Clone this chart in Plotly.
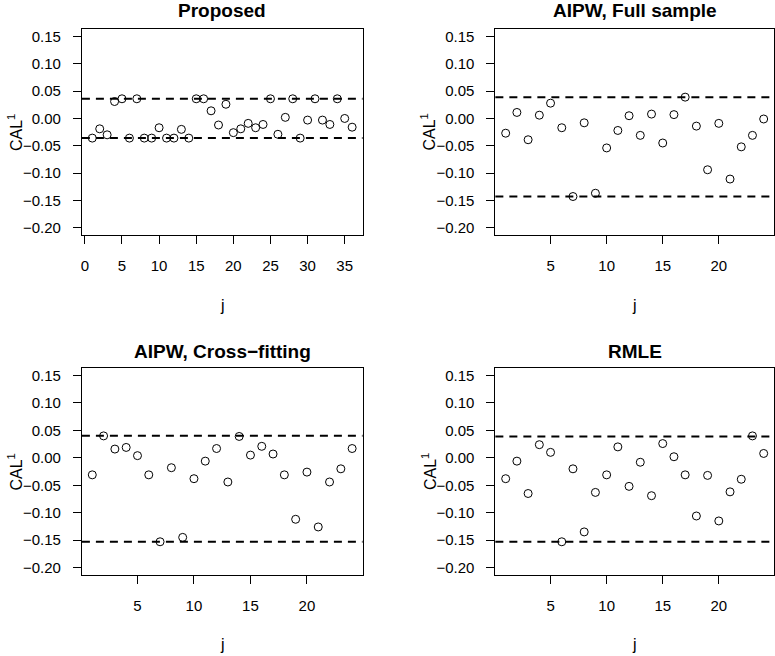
import plotly.graph_objects as go

# ---- data ----
titles = ["Proposed", "AIPW, Full sample", "AIPW, Cross\u2212fitting", "RMLE"]

proposed = [-0.036, -0.019, -0.030, 0.031, 0.036, -0.036, 0.036, -0.036, -0.036, -0.017,
            -0.036, -0.036, -0.020, -0.036, 0.036, 0.036, 0.014, -0.012, 0.026, -0.026,
            -0.019, -0.009, -0.017, -0.011, 0.036, -0.029, 0.002, 0.036, -0.036, -0.003,
            0.036, -0.003, -0.011, 0.036, 0.000, -0.016]
aipw_full = [-0.027, 0.011, -0.039, 0.006, 0.028, -0.017, -0.143, -0.008, -0.137, -0.054,
             -0.022, 0.005, -0.031, 0.008, -0.045, 0.007, 0.039, -0.014, -0.094, -0.009,
             -0.111, -0.052, -0.031, -0.001]
aipw_cf = [-0.031, 0.040, 0.016, 0.019, 0.004, -0.031, -0.153, -0.018, -0.145, -0.038,
           -0.006, 0.017, -0.044, 0.039, 0.005, 0.021, 0.007, -0.031, -0.112, -0.026,
           -0.126, -0.044, -0.020, 0.017]
rmle = [-0.038, -0.006, -0.065, 0.024, 0.010, -0.153, -0.020, -0.135, -0.063, -0.031,
        0.020, -0.052, -0.008, -0.069, 0.026, 0.002, -0.031, -0.106, -0.032, -0.115,
        -0.062, -0.039, 0.040, 0.008]

bounds = [(-0.036, 0.036), (-0.143, 0.039), (-0.153, 0.0405), (-0.153, 0.039)]

series = [proposed, aipw_full, aipw_cf, rmle]
xticks = [[0, 5, 10, 15, 20, 25, 30, 35], [5, 10, 15, 20], [5, 10, 15, 20], [5, 10, 15, 20]]
yticks = [-0.20, -0.15, -0.10, -0.05, 0.00, 0.05, 0.10, 0.15]
ylim = (-0.20, 0.15)

# ---- layout geometry (pixels) ----
W, H = 775, 656
boxes = [  # left, right, top, bottom
    (81, 362, 28, 235),
    (495, 774, 28, 235),
    (81, 362, 368, 576),
    (495, 774, 368, 576),
]
title_y = [10, 10, 352, 352]
jlab_y = [305, 305, 645, 645]

FONT = "Liberation Sans, Arial, Helvetica, sans-serif"

fig = go.Figure()
annotations = []
shapes = []

for i, (vals, box) in enumerate(zip(series, boxes)):
    n = len(vals)
    xs = list(range(1, n + 1))
    span = n - 1
    xr = [1 - 0.04 * span, n + 0.04 * span]
    ys = ylim[1] - ylim[0]
    yr = [ylim[0] - 0.04 * ys, ylim[1] + 0.04 * ys]
    l, r, t, b = box
    ax = "" if i == 0 else str(i + 1)
    xa = "xaxis" + ax
    ya = "yaxis" + ax
    common = dict(showline=True, mirror=True, linecolor="black", linewidth=1,
                  ticks="outside", ticklen=8, tickwidth=1, tickcolor="black",
                  showgrid=False, zeroline=False,
                  tickfont=dict(family=FONT, size=15, color="black"))
    fig.update_layout(**{
        xa: dict(domain=[l / W, r / W], range=xr, tickmode="array", tickvals=xticks[i],
                 anchor="y" + ax, ticklabelstandoff=9, **common),
        ya: dict(domain=[1 - b / H, 1 - t / H], range=yr, tickmode="array", tickvals=yticks,
                 tickformat=".2f", anchor="x" + ax, ticklabelstandoff=9, **common),
    })
    fig.add_trace(go.Scatter(x=xs, y=vals, mode="markers", xaxis="x" + ax, yaxis="y" + ax,
                             marker=dict(symbol="circle-open", size=8,
                                         line=dict(color="black", width=1), color="black"),
                             showlegend=False, hoverinfo="x+y"))
    for yv in bounds[i]:
        shapes.append(dict(type="line", xref="x" + ax + " domain", yref="y" + ax,
                           x0=0, x1=1, y0=yv, y1=yv,
                           line=dict(color="black", width=2, dash="8px,6px")))
    cx = (l + r) / 2 / W
    annotations.append(dict(text="<b>" + titles[i] + "</b>", x=cx, y=1 - title_y[i] / H,
                            xref="paper", yref="paper", showarrow=False,
                            xanchor="center", yanchor="middle",
                            font=dict(family=FONT, size=19, color="black")))
    annotations.append(dict(text="j", x=cx, y=1 - jlab_y[i] / H,
                            xref="paper", yref="paper", showarrow=False,
                            xanchor="center", yanchor="middle",
                            font=dict(family=FONT, size=16, color="black")))
    annotations.append(dict(text="CAL<sup>1</sup>", x=(l - 67) / W, y=1 - (t + b) / 2 / H,
                            xref="paper", yref="paper", showarrow=False, textangle=-90,
                            xanchor="center", yanchor="middle",
                            font=dict(family=FONT, size=16, color="black")))

fig.update_layout(width=W, height=H, margin=dict(l=0, r=0, t=0, b=0),
                  paper_bgcolor="white", plot_bgcolor="white",
                  annotations=annotations, shapes=shapes)

fig.write_html("out.html", config={"displayModeBar": False},
               post_script="document.body.style.margin='0';document.body.style.overflow='hidden';")
